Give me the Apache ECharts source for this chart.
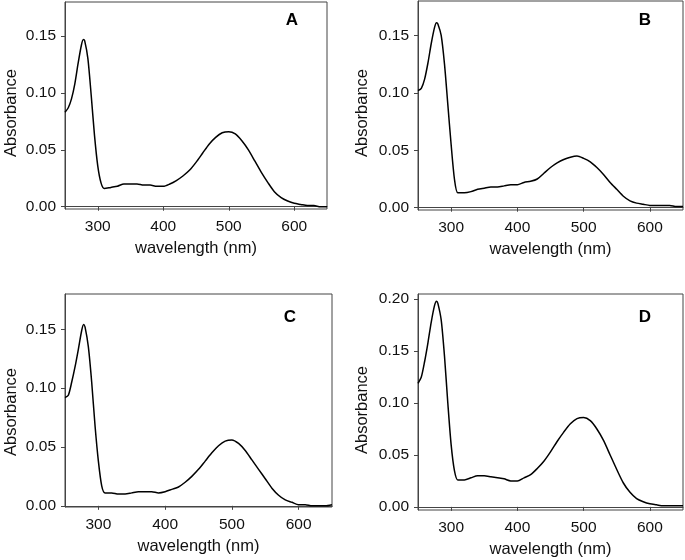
<!DOCTYPE html>
<html>
<head>
<meta charset="utf-8">
<script src="https://cdn.jsdelivr.net/npm/echarts@6/dist/echarts.min.js"></script>
<style>
html,body{margin:0;padding:0;background:#fff;}
#chart{width:685px;height:560px;}
</style>
</head>
<body>
<div id="chart"></div>
<script>
const wavelengths = [250,255,260,265,270,275,278,280,285,290,295,300,305,310,
  320,330,340,350,360,370,380,390,400,410,420,430,440,450,460,470,480,490,500,
  510,520,530,540,550,560,570,580,590,600,610,620,630,640,650];

const absA = [0.083,0.087,0.095,0.108,0.126,0.142,0.147,0.146,0.130,0.098,0.063,0.036,0.021,0.016,
  0.017,0.018,0.020,0.020,0.020,0.019,0.019,0.018,0.018,0.020,0.023,0.027,0.032,0.039,0.047,0.055,0.061,0.065,0.066,
  0.064,0.058,0.050,0.040,0.030,0.021,0.013,0.008,0.005,0.003,0.002,0.001,0.001,0.000,0.000];

const absB = [0.102,0.104,0.112,0.126,0.143,0.157,0.161,0.160,0.150,0.125,0.090,0.055,0.025,0.013,
  0.013,0.014,0.016,0.017,0.018,0.018,0.019,0.020,0.020,0.022,0.023,0.025,0.030,0.035,0.039,0.042,0.044,0.045,0.043,
  0.040,0.035,0.029,0.022,0.016,0.010,0.006,0.004,0.003,0.002,0.002,0.002,0.002,0.001,0.001];

const absC = [0.092,0.094,0.105,0.118,0.133,0.149,0.154,0.152,0.135,0.105,0.068,0.038,0.017,0.011,
  0.011,0.010,0.010,0.011,0.012,0.012,0.012,0.011,0.012,0.014,0.016,0.020,0.025,0.031,0.038,0.045,0.051,0.055,0.056,
  0.053,0.047,0.039,0.031,0.023,0.015,0.009,0.005,0.003,0.001,0.001,0.000,0.000,0.000,0.001];

const absD = [0.119,0.125,0.140,0.158,0.178,0.194,0.198,0.196,0.180,0.145,0.100,0.060,0.035,0.026,
  0.026,0.028,0.030,0.030,0.029,0.028,0.027,0.025,0.025,0.028,0.031,0.037,0.044,0.053,0.063,0.072,0.080,0.085,0.086,
  0.083,0.075,0.064,0.050,0.036,0.023,0.014,0.008,0.005,0.003,0.002,0.001,0.001,0.001,0.001];

const xTicks = [300,400,500,600];
const yTicksABC = [0,0.05,0.10,0.15];
const yTicksD = [0,0.05,0.10,0.15,0.20];
const panelLetters = ['A','B','C','D'];
const xName = 'wavelength (nm)';
const yName = 'Absorbance';

const panels = [
  {data: absA, grid:{left:65, top:2, width:262, height:207}, ymin:-0.002, ymax:0.18, yt:yTicksABC, letter:[292,20], yname:[11,113]},
  {data: absB, grid:{left:418, top:1, width:265, height:209}, ymin:-0.002, ymax:0.18, yt:yTicksABC, letter:[645,20], yname:[362,113]},
  {data: absC, grid:{left:65, top:294, width:267, height:213}, ymin:-0.001, ymax:0.18, yt:yTicksABC, letter:[290,317], yname:[11,412]},
  {data: absD, grid:{left:418, top:294, width:265, height:216}, ymin:-0.003, ymax:0.205, yt:yTicksD, letter:[645,317], yname:[362,410]}
];

const font = 'Liberation Sans, Arial, sans-serif';
const grids = [], xAxes = [], yAxes = [], series = [], graphics = [];
panels.forEach((p, i) => {
  grids.push(Object.assign({show:true, borderColor:'#444', borderWidth:1, backgroundColor:'transparent'}, p.grid));
  xAxes.push({
    type:'value', gridIndex:i, min:250, max:650,
    name:xName, nameLocation:'middle', nameGap:31,
    nameTextStyle:{fontFamily:font, fontSize:16.5, color:'#111'},
    axisLine:{show:true, lineStyle:{color:'#444', width:1}},
    axisTick:{show:true, length:4, inside:false, customValues:xTicks, lineStyle:{color:'#444'}},
    axisLabel:{customValues:xTicks, margin:10, fontFamily:font, fontSize:15.5, color:'#111'},
    splitLine:{show:false}
  });
  yAxes.push({
    type:'value', gridIndex:i, min:p.ymin, max:p.ymax,
    axisLine:{show:true, lineStyle:{color:'#444', width:1}},
    axisTick:{show:true, length:4, inside:false, customValues:p.yt, lineStyle:{color:'#444'}},
    axisLabel:{customValues:p.yt, margin:9, fontFamily:font, fontSize:15.5, color:'#111',
      formatter: v => v.toFixed(2)},
    splitLine:{show:false}
  });
  series.push({
    type:'line', xAxisIndex:i, yAxisIndex:i, showSymbol:false, smooth:0.25,
    data: wavelengths.map((w, k) => [w, p.data[k]]),
    lineStyle:{color:'#000', width:1.5}, animation:false
  });
  graphics.push({
    type:'text', x:p.letter[0], y:p.letter[1],
    style:{text:panelLetters[i], font:'bold 17px ' + font, fill:'#000', textAlign:'center', textVerticalAlign:'middle'}
  });
  graphics.push({
    type:'text', x:p.yname[0], y:p.yname[1], rotation:Math.PI/2,
    style:{text:yName, font:'16.5px ' + font, fill:'#111', textAlign:'center', textVerticalAlign:'middle'}
  });
});

const chart = echarts.init(document.getElementById('chart'), null, {renderer:'canvas'});
chart.setOption({
  animation:false,
  backgroundColor:'#fff',
  grid: grids, xAxis: xAxes, yAxis: yAxes, series: series, graphic: graphics
});
</script>
</body>
</html>
